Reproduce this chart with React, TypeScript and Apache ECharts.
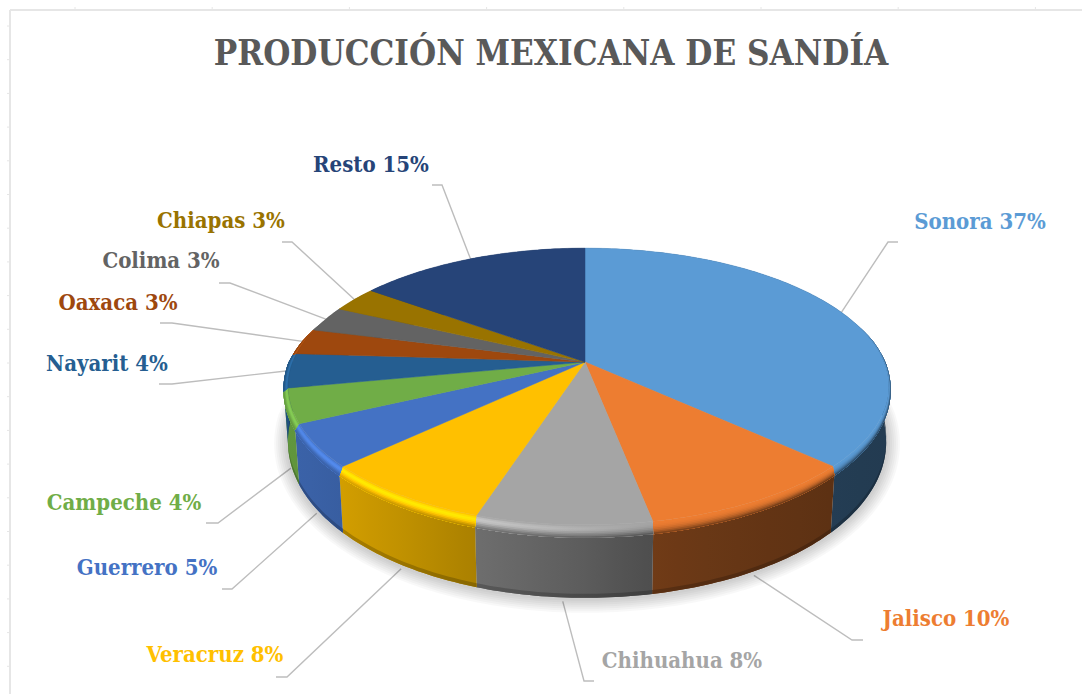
import React, { useEffect, useRef } from "react";
import * as echarts from "echarts";

const titleText = "PRODUCCIÓN MEXICANA DE SANDÍA";
const categories = ["Sonora", "Jalisco", "Chihuahua", "Veracruz", "Guerrero", "Campeche", "Nayarit", "Oaxaca", "Colima", "Chiapas", "Resto"];
const shares = [37, 10, 8, 8, 5, 4, 4, 3, 3, 3, 15];
const colors = ["#5b9bd5", "#ed7d31", "#a5a5a5", "#ffc000", "#4472c4", "#70ad47", "#255e91", "#9e480e", "#636363", "#997300", "#264478"];

// layout only: label centres and the elbow of each leader [labelX, labelY, lineStartX, elbowX, elbowY]
const labelLayout = [
  [980, 221, 898, 888, 242],
  [946, 618, 863, 852, 640],
  [682, 660, 594, 584, 681],
  [215, 654, 276, 287, 677],
  [147, 567, 222, 232, 589],
  [124, 502, 206, 218, 523],
  [107, 363, 159, 172, 384],
  [118, 302, 160, 172, 323],
  [161, 260, 219, 230, 283],
  [221, 220, 282, 292, 242],
  [371, 164, 432, 442, 185],
];

const CX = 585, CY = 362, A_LEFT = 292, A_RIGHT = 299, B = 134, K = 0.177;
const total = shares.reduce((a, b) => a + b, 0);
const startOf = (i: number) => shares.slice(0, i).reduce((a, b) => a + b, 0) / total * Math.PI * 2;
const endOf = (i: number) => startOf(i + 1);

const top = (t: number) => {
  const u = Math.sin(t), v = -Math.cos(t), w = 1 - K * v;
  return [CX + ((u < 0 ? A_LEFT : A_RIGHT) * u) / w, CY + (B * v) / w];
};
const clamp = (x: number) => Math.max(0, Math.min(1, x));
const rim = (t: number, f: number) => {
  const p = top(t), u = Math.sin(t), v = -Math.cos(t);
  const down = clamp((v + 0.15) / 1.15);
  const side = clamp((v + 0.3) / 0.3);
  return [p[0] + (u < 0 ? 5 : 2) * u * side * f, p[1] + 13 * down * f];
};
const bottom = (t: number, less = 0) => {
  const p = rim(t, 1), v = -Math.cos(t);
  return [CX + (p[0] - CX) * 0.985, p[1] + 50 + 10 * Math.max(0, v) - less];
};
const arc = (a: number, b: number, fn: (t: number) => number[]) => {
  const n = Math.max(2, Math.ceil(((b - a) * 180) / Math.PI));
  const out: number[][] = [];
  for (let i = 0; i <= n; i++) out.push(fn(a + ((b - a) * i) / n));
  return out;
};

const rgb = (hex: string) => [1, 3, 5].map((i) => parseInt(hex.slice(i, i + 2), 16));
const css = (c: number[]) => `rgb(${c.map((x) => Math.max(0, Math.min(255, Math.round(x)))).join(",")})`;
const X0 = 280, X1 = 890;
const wallStops = [[282, 0.87], [345, 0.82], [473, 0.67], [565, 0.58], [653, 0.47], [760, 0.42], [835, 0.39], [890, 0.38]];
const lightStops = [[282, 0.8], [345, 1], [470, 1], [560, 0.55], [650, 0], [890, 0]];
const interp = (tb: number[][], x: number) => {
  for (let i = 1; i < tb.length; i++) {
    if (x <= tb[i][0]) {
      const r = (x - tb[i - 1][0]) / (tb[i][0] - tb[i - 1][0]);
      return tb[i - 1][1] + (tb[i][1] - tb[i - 1][1]) * Math.max(0, r);
    }
  }
  return tb[tb.length - 1][1];
};
const xGradient = (colorAt: (x: number) => string) => {
  const stops = [];
  for (let i = 0; i <= 20; i++) {
    const x = X0 + ((X1 - X0) * i) / 20;
    stops.push({ offset: i / 20, color: colorAt(x) });
  }
  return new echarts.graphic.LinearGradient(X0, 0, X1, 0, stops, true);
};
const wallFill = (hex: string, extra = 1) => {
  const c = rgb(hex);
  return xGradient((x) => css(c.map((v) => v * interp(wallStops, x) * extra)));
};
const rimFill = (hex: string, t: number) => {
  const c = rgb(hex);
  return xGradient((x) => {
    const lift = 1 + 0.26 * interp(lightStops, x) * Math.pow(Math.sin(Math.PI * Math.pow(t, 0.75)), 2);
    const mix = Math.pow(t, 2.5);
    const w = interp(wallStops, x);
    return css(c.map((v) => v * (lift * (1 - mix) + w * mix)));
  });
};

const BANDS = 8;
const SHADOW_STEPS = [14, 12, 10, 8, 6, 4, 2];

function App() {
  const ref = useRef<HTMLDivElement>(null);
  useEffect(() => {
    const chart = echarts.init(ref.current!, undefined, { renderer: "svg" });
    const sliceData = shares.map((v, i) => [i, v]);
    const layer = (z: number, data: any[], renderItem: any) => ({
      type: "custom", coordinateSystem: "none", z, silent: true, clip: false, data, renderItem,
    });
    const frame: any[] = [
      { type: "line", shape: { x1: 10, y1: 10, x2: 10, y2: 694 }, style: { stroke: "#e6e6e6", lineWidth: 2 } },
      { type: "line", shape: { x1: 10, y1: 10, x2: 1082, y2: 10 }, style: { stroke: "#e6e6e6", lineWidth: 2 } },
    ];
    for (let i = 0; i < 20; i++) {
      const y = 26 + 33.7 * i;
      frame.push({ type: "line", shape: { x1: 7, y1: y, x2: 9, y2: y }, style: { stroke: "#e6e6e6", lineWidth: 1 } });
    }
    for (let i = 0; i < 8; i++) {
      const x = 75 + 137.2 * i;
      frame.push({ type: "line", shape: { x1: x, y1: 7, x2: x, y2: 9 }, style: { stroke: "#e6e6e6", lineWidth: 1 } });
    }
    chart.setOption({
      animation: false,
      backgroundColor: "#ffffff",
      title: {
        text: titleText, left: 546, top: 30, textAlign: "center",
        textStyle: { fontFamily: "DejaVu Serif Condensed", fontWeight: "bold", fontSize: 34.7, color: "#595959" },
      },
      graphic: { elements: frame, silent: true },
      series: [
        layer(1, sliceData, (p: any) => {
          const i = p.dataIndex;
          const mid = (startOf(i) + endOf(i)) / 2;
          const v = -Math.cos(mid);
          const end = v > 0.1 ? bottom(mid) : top(mid);
          const gap = v > 0.1 ? 4 : 0;
          const l = labelLayout[i];
          return {
            type: "polyline",
            shape: { points: [[l[2], l[4]], [l[3], l[4]], [end[0], end[1] + gap]] },
            style: { stroke: "#bdbdbd", lineWidth: 1.4, fill: "none" },
          };
        }),
        layer(2, SHADOW_STEPS.map((d) => [d]), (_p: any, api: any) => {
          const d = api.value(0);
          return {
            type: "polygon",
            shape: {
              points: arc(0, Math.PI * 2, (t) => {
                const q = bottom(t);
                return [q[0] + Math.sin(t) * d, q[1] + (-Math.cos(t) * d) + 1];
              }),
            },
            style: { fill: "rgba(0,0,0,0.028)" },
          };
        }),
        layer(3, sliceData, (p: any) => {
          const i = p.dataIndex, a = startOf(i), b = endOf(i);
          const outer = arc(a, b, (t) => rim(t, 0.9));
          const low = arc(a, b, (t) => bottom(t));
          const lowIn = arc(a, b, (t) => bottom(t, 4));
          return {
            type: "group",
            children: [
              { type: "polygon", shape: { points: outer.concat(low.slice().reverse()) }, style: { fill: wallFill(colors[i]) } },
              { type: "polygon", shape: { points: lowIn.concat(low.slice().reverse()) }, style: { fill: wallFill(colors[i], 0.8) } },
            ],
          };
        }),
        layer(4, sliceData, (p: any) => {
          const i = p.dataIndex, a = startOf(i), b = endOf(i);
          const outer = arc(a, b, (t) => rim(t, 1));
          const children = [];
          for (let j = 0; j < BANDS; j++) {
            const f = j / BANDS;
            const inner = arc(a, b, (t) => rim(t, f));
            children.push({
              type: "polygon",
              shape: { points: inner.concat(outer.slice().reverse()) },
              style: { fill: rimFill(colors[i], (j + 0.5) / BANDS) },
            });
          }
          return { type: "group", children };
        }),
        layer(5, sliceData, (p: any) => {
          const i = p.dataIndex;
          const pts = [[CX, CY]].concat(arc(startOf(i), endOf(i), top));
          return { type: "polygon", shape: { points: pts }, style: { fill: colors[i], stroke: colors[i], lineWidth: 0.5 } };
        }),
        layer(6, sliceData, (p: any, api: any) => {
          const i = p.dataIndex;
          return {
            type: "text",
            style: {
              text: `${categories[i]} ${api.value(1)}%`,
              x: labelLayout[i][0], y: labelLayout[i][1],
              textAlign: "center", textVerticalAlign: "middle",
              fontFamily: "DejaVu Serif Condensed", fontWeight: "bold", fontSize: 22, fill: colors[i],
            },
          };
        }),
      ],
    });
    return () => chart.dispose();
  }, []);
  return <div ref={ref} style={{ position: "absolute", left: 0, top: 0, width: 1082, height: 694 }} />;
}

export default App;
